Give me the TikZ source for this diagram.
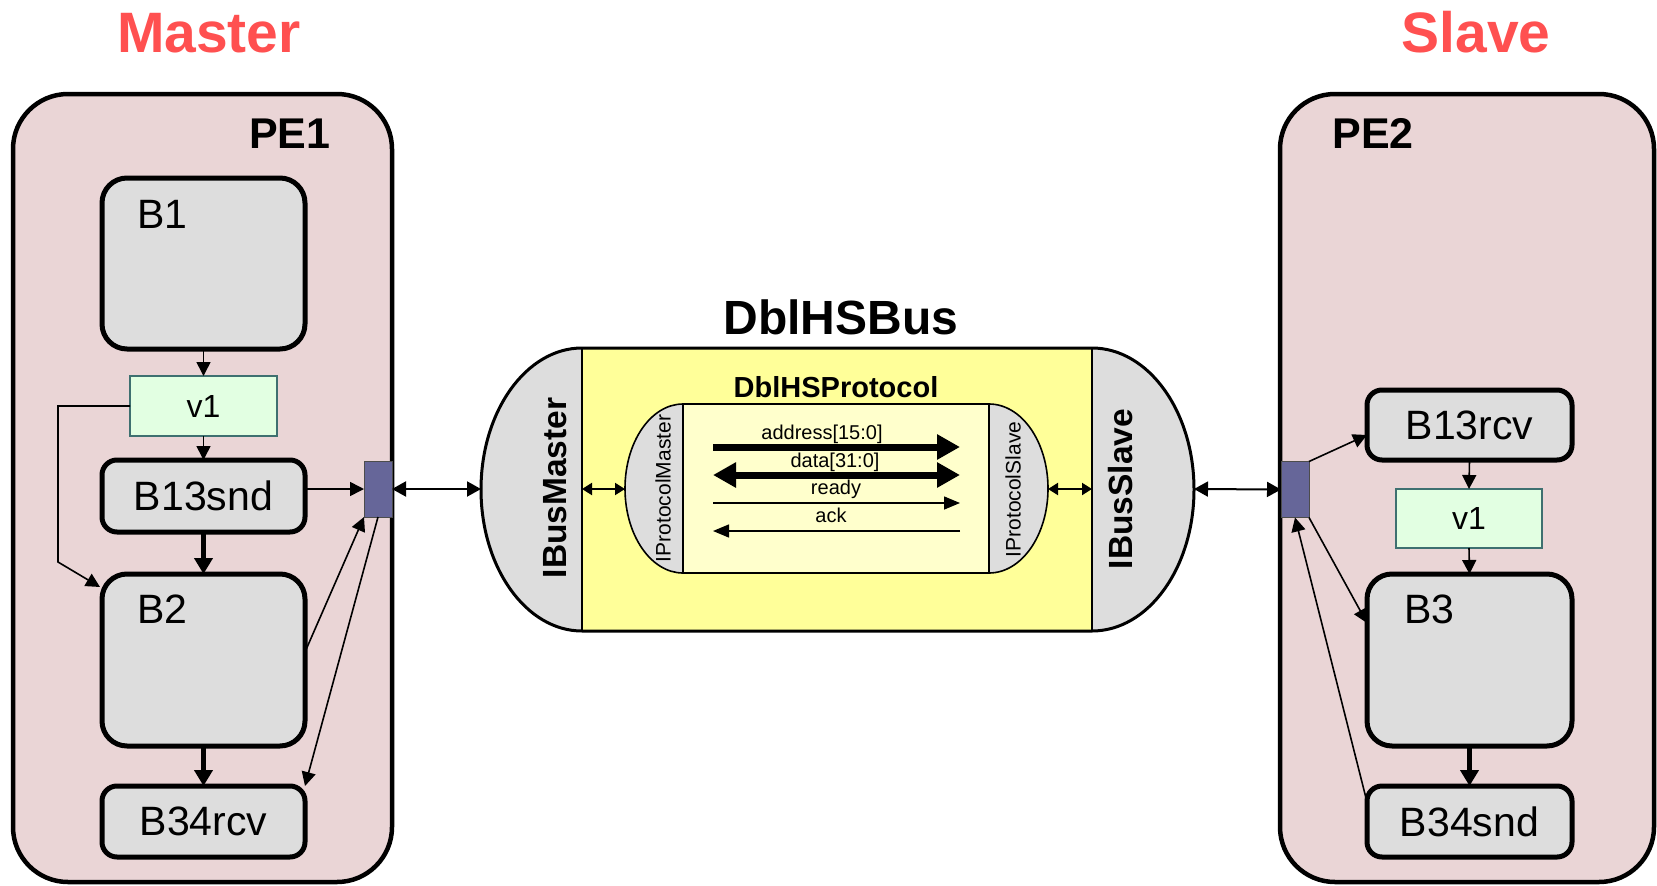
\documentclass[tikz,border=0pt]{standalone}
\usepackage{fontspec}
\setmainfont{Liberation Sans}
\usetikzlibrary{arrows.meta,calc}

\definecolor{peFill}{RGB}{234,213,214}
\definecolor{blkFill}{RGB}{221,221,221}
\definecolor{varFill}{RGB}{226,255,226}
\definecolor{varLine}{RGB}{62,112,112}
\definecolor{portFill}{RGB}{102,102,153}
\definecolor{busFill}{RGB}{255,255,153}
\definecolor{protoFill}{RGB}{255,255,204}
\definecolor{roleRed}{RGB}{255,80,80}

\newcommand{\fsz}[1]{\fontsize{#1}{#1}\selectfont}

\begin{document}
\begin{tikzpicture}[x=1pt,y=-1pt,
  pebox/.style={draw,line width=4.5pt,fill=peFill,rounded corners=55pt,
    inner sep=0pt,outer sep=0pt,minimum height=788pt},
  blk/.style={draw,line width=5pt,fill=blkFill,rounded corners=#1,
    inner sep=0pt,outer sep=0pt,font=\fsz{41}},
  varbox/.style={draw=varLine,line width=1.8pt,fill=varFill,inner sep=0pt,
    outer sep=0pt,font=\fsz{32}},
  portbox/.style={draw=black!70,line width=0.8pt,fill=portFill,inner sep=0pt,
    outer sep=0pt,minimum width=28pt,minimum height=56pt},
  thinarrow/.style={line width=1.6pt,-{Triangle[length=14pt,width=14pt]}},
  thickarrow/.style={line width=5pt,-{Triangle[length=16pt,width=18pt]}},
  bigbi/.style={line width=2pt,{Triangle[length=14pt,width=15pt]}-{Triangle[length=14pt,width=15pt]}},
  smallbi/.style={line width=2pt,{Triangle[length=10pt,width=12pt]}-{Triangle[length=10pt,width=12pt]}},
  fatsig/.style={line width=7pt,-{Triangle[length=23pt,width=24pt]}},
  fatbisig/.style={line width=7pt,{Triangle[length=23pt,width=24pt]}-{Triangle[length=23pt,width=24pt]}},
  slimsig/.style={line width=1.5pt,-{Triangle[length=16pt,width=13pt]}},
  siglabel/.style={anchor=base,font=\fsz{20}},
  title/.style={anchor=base,font=\bfseries\fsz{57},text=roleRed}
]
\useasboundingbox (0,0) rectangle (1657,886);

% ---------- titles ----------
\node[title] (mastertitle) at (209,52) {Master};
\node[title] (slavetitle) at (1476,52) {Slave};

% ---------- processing element PE1 ----------
\node[pebox,minimum width=379pt] (pe1) at (202.5,488) {};
\node[anchor=base east,font=\bfseries\fsz{43}] (pe1t) at (334,148) {PE1};

\node[blk=25pt,minimum width=203pt,minimum height=171pt] (b1) at (203.5,263.5) {};
\node[anchor=base west,font=\fsz{41}] (b1t) at (134,228) {B1};
\node[varbox,minimum width=147pt,minimum height=60pt] (v1l) at (203.5,406) {v1};
\node[blk=15pt,minimum width=203pt,minimum height=72pt] (b13snd) at (203.5,496) {B13snd};
\node[blk=25pt,minimum width=203pt,minimum height=172pt] (b2) at (203.5,660) {};
\node[anchor=base west,font=\fsz{41}] (b2t) at (134,623) {B2};
\node[blk=15pt,minimum width=203pt,minimum height=71pt] (b34rcv) at (203.5,821.5) {B34rcv};
\node[portbox] (pl) at (378,489) {};

\draw[thinarrow] (b1.south) -- (v1l.north);
\draw[thinarrow] (v1l.south) -- (b13snd.north);
\draw[thinarrow] (v1l.west) -- ++(-72,0) -- ++(0,156)
  -- ([xshift=-2pt,yshift=-13pt]b2.north west);
\draw[thinarrow] (b13snd.east |- pl.west) -- (pl.west);
\draw[thickarrow] (b13snd.south) -- (b2.north);
\draw[thinarrow] ([yshift=8pt]b2.east) -- (pl.south west);
\draw[thinarrow] (pl.south) -- (b34rcv.north east);
\draw[thickarrow] (b2.south) -- (b34rcv.north);

% ---------- processing element PE2 ----------
\node[pebox,minimum width=374pt] (pe2) at (1467,488) {};
\node[anchor=base west,font=\bfseries\fsz{43}] (pe2t) at (1329,148) {PE2};

\node[blk=15pt,minimum width=205pt,minimum height=70pt] (b13rcv) at (1469.5,425) {B13rcv};
\node[varbox,minimum width=146pt,minimum height=59pt] (v1r) at (1469,518.5) {v1};
\node[blk=25pt,minimum width=205pt,minimum height=172pt] (b3) at (1469.5,660) {};
\node[anchor=base west,font=\fsz{41}] (b3t) at (1401,623) {B3};
\node[blk=15pt,minimum width=205pt,minimum height=71pt] (b34snd) at (1469.5,821.5) {B34snd};
\node[portbox] (pr) at (1295,489.5) {};

\draw[thinarrow] (pr.north east) -- ([yshift=-10pt]b13rcv.west);
\draw[thinarrow] (b13rcv.south) -- (v1r.north);
\draw[thinarrow] (v1r.south) -- (b3.north);
\draw[thinarrow] (pr.south east) -- ([yshift=37pt]b3.west);
\draw[thinarrow] ([yshift=-16pt]b34snd.north west) -- (pr.south);
\draw[thickarrow] (b3.south) -- (b34snd.north);

% ---------- channel DblHSBus ----------
\fill[busFill] (582,348) rectangle (1092,631);
\fill[blkFill] (582,348) arc[start angle=270,end angle=90,x radius=101,y radius=141.5] -- cycle;
\fill[blkFill] (1092,348) arc[start angle=-90,end angle=90,x radius=102,y radius=141.5] -- cycle;
\draw[line width=3pt,line join=round] (582,348) -- (1092,348)
  arc[start angle=-90,end angle=90,x radius=102,y radius=141.5]
  -- (582,631) arc[start angle=90,end angle=270,x radius=101,y radius=141.5] -- cycle;
\draw[line width=2pt] (582,348) -- (582,631);
\draw[line width=2pt] (1092,348) -- (1092,631);
\node[anchor=base,font=\bfseries\fsz{48}] (bustitle) at (841,334) {DblHSBus};
\node[rotate=90,font=\bfseries\fsz{33.5}] (ibmt) at (555,488) {IBusMaster};
\node[rotate=90,font=\bfseries\fsz{33.5}] (ibst) at (1121,489) {IBusSlave};
\coordinate (ibm) at (481,489);
\coordinate (ibs) at (1194,489);
\coordinate (ibmin) at (582,489);
\coordinate (ibsin) at (1092,489);

% ---------- protocol DblHSProtocol ----------
\fill[protoFill] (683,404) rectangle (989,573);
\fill[blkFill] (683,404) arc[start angle=270,end angle=90,x radius=58,y radius=84.5] -- cycle;
\fill[blkFill] (989,404) arc[start angle=-90,end angle=90,x radius=59,y radius=84.5] -- cycle;
\draw[line width=1.6pt,line join=round] (683,404) -- (989,404)
  arc[start angle=-90,end angle=90,x radius=59,y radius=84.5]
  -- (683,573) arc[start angle=90,end angle=270,x radius=58,y radius=84.5] -- cycle;
\draw[line width=1.6pt] (683,404) -- (683,573);
\draw[line width=1.6pt] (989,404) -- (989,573);
\node[anchor=base,font=\bfseries\fsz{29}] (prototitle) at (836,397) {DblHSProtocol};
\node[rotate=90,font=\fsz{21}] (ipmt) at (663,488.5) {IProtocolMaster};
\node[rotate=90,font=\fsz{21}] (ipst) at (1013,489.5) {IProtocolSlave};
\coordinate (ipm) at (625,489);
\coordinate (ips) at (1048,489);

% signals
\coordinate (addrL) at (713,447); \coordinate (addrR) at (960,447);
\coordinate (dataL) at (713,475); \coordinate (dataR) at (960,475);
\coordinate (rdyL) at (713,503); \coordinate (rdyR) at (960,503);
\coordinate (ackL) at (713,531); \coordinate (ackR) at (960,531);
\draw[fatsig] (addrL) -- (addrR);
\draw[fatbisig] (dataL) -- (dataR);
\draw[slimsig] (rdyL) -- (rdyR);
\draw[slimsig] (ackR) -- (ackL);
\node[siglabel] (addrt) at (822,439) {address[15:0]};
\node[siglabel] (datat) at (835,467) {data[31:0]};
\node[siglabel] (rdyt) at (836,494) {ready};
\node[siglabel] (ackt) at (831,522) {ack};

% ---------- links between the parts ----------
\draw[bigbi] (pl.east) -- (ibm);
\draw[bigbi] (ibs) -- (pr.west);
\draw[smallbi] (ibmin) -- (ipm);
\draw[smallbi] (ips) -- (ibsin);
\end{tikzpicture}
\end{document}
